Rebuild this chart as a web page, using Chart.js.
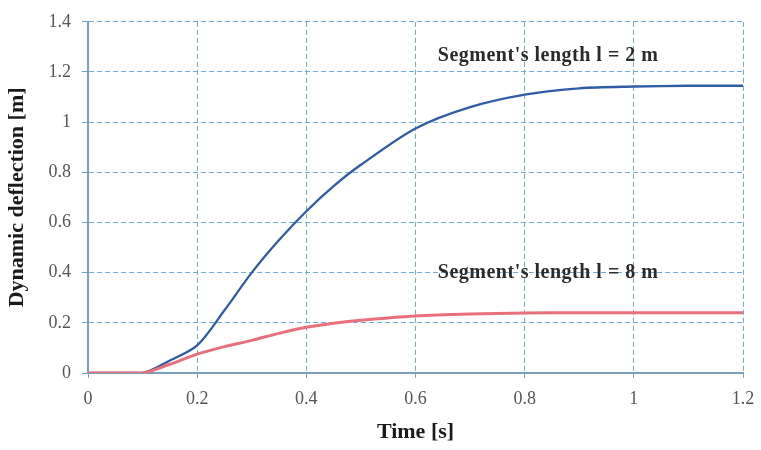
<!DOCTYPE html>
<html>
<head>
<meta charset="utf-8">
<script src="https://cdn.jsdelivr.net/npm/chart.js@4/dist/chart.umd.min.js"></script>
<style>
  html, body { margin: 0; padding: 0; background: #fff; }
  #wrap { width: 761px; height: 450px; }
</style>
</head>
<body>
<div id="wrap"><canvas id="chart" width="761" height="450"></canvas></div>
<script>
// values
let timeValues = [0, 0.1, 0.15, 0.2, 0.25, 0.3, 0.35, 0.4, 0.45, 0.5, 0.6, 0.7, 0.8, 0.9, 1.0, 1.1, 1.2]
let deflection2m = [0, 0, 0.05, 0.11, 0.25, 0.4, 0.53, 0.645, 0.745, 0.83, 0.975, 1.06, 1.11, 1.135, 1.142, 1.145, 1.145]
let deflection8m = [0, 0, 0.035, 0.075, 0.105, 0.13, 0.158, 0.182, 0.198, 0.21, 0.227, 0.235, 0.239, 0.24, 0.24, 0.24, 0.24]
let xTicks = [0, 0.2, 0.4, 0.6, 0.8, 1, 1.2]
let yTicks = [0, 0.2, 0.4, 0.6, 0.8, 1, 1.2, 1.4]

let notes = [
    {text: "Segment's length l = 2 m", x: 0.843, y: 1.265},
    {text: "Segment's length l = 8 m", x: 0.843, y: 0.40}
]

let serif = '"Liberation Serif", "Times New Roman", serif'

// draw the two labels inside the plot
let notePlugin = {
    id: 'notes',
    afterDatasetsDraw(chart) {
        let ctx = chart.ctx
        ctx.save()
        ctx.font = 'bold 20px ' + serif
        ctx.letterSpacing = '0.5px'
        ctx.fillStyle = '#2b2b2b'
        ctx.textAlign = 'center'
        ctx.textBaseline = 'middle'
        notes.forEach(function(n) {
            ctx.fillText(n.text, chart.scales.x.getPixelForValue(n.x), chart.scales.y.getPixelForValue(n.y))
        })
        ctx.restore()
    }
}

function toPoints(ys) {
    return timeValues.map((t, i) => ({x: t, y: ys[i]}))
}

let ctx = document.getElementById('chart').getContext('2d')
let deflectionChart = new Chart(ctx, {
    type: 'line',
    data: {
        datasets: [
            {
                label: 'l = 8 m',
                data: toPoints(deflection8m),
                borderColor: '#e8707c',
                borderWidth: 3,
                pointRadius: 0,
                tension: 0.3
            },
            {
                label: 'l = 2 m',
                data: toPoints(deflection2m),
                borderColor: '#2f5ca6',
                borderWidth: 2.3,
                pointRadius: 0,
                tension: 0.3
            }
        ]
    },
    options: {
        responsive: false,
        animation: false,
        layout: {padding: {top: 19, right: 0, bottom: 0, left: 0}},
        plugins: {
            legend: {display: false},
            tooltip: {enabled: false}
        },
        scales: {
            x: {
                type: 'linear',
                min: 0,
                max: 1.2,
                afterBuildTicks(axis) { axis.ticks = xTicks.map(v => ({value: v})) },
                afterFit(axis) {
                    axis.height = 77
                    axis.paddingRight = 18
                },
                grid: {
                    color: '#72acd8',
                    tickLength: 5,
                    tickColor: '#7a9fb8'
                },
                border: {display: true, color: '#7a9fb8', width: 2, dash: [5, 3]},
                ticks: {
                    color: '#555',
                    font: {family: serif, size: 18},
                    padding: 10,
                    maxRotation: 0,
                    callback: v => String(v)
                },
                title: {
                    display: true,
                    text: 'Time [s]',
                    color: '#1a1a1a',
                    font: {family: serif, size: 22, weight: 'bold'},
                    padding: {top: 4}
                }
            },
            y: {
                min: 0,
                max: 1.4,
                afterBuildTicks(axis) { axis.ticks = yTicks.map(v => ({value: v})) },
                afterFit(axis) { axis.width = 88 },
                grid: {
                    color: '#72acd8',
                    tickLength: 6,
                    tickColor: '#7a9fb8'
                },
                border: {display: true, color: '#7a9fb8', width: 2, dash: [5, 3]},
                ticks: {
                    color: '#555',
                    font: {family: serif, size: 18},
                    padding: 11,
                    callback: v => String(v)
                },
                title: {
                    display: true,
                    text: 'Dynamic deflection [m]',
                    color: '#1a1a1a',
                    font: {family: serif, size: 22, weight: 'bold'},
                    padding: {bottom: 1}
                }
            }
        }
    },
    plugins: [notePlugin]
})
</script>
</body>
</html>
